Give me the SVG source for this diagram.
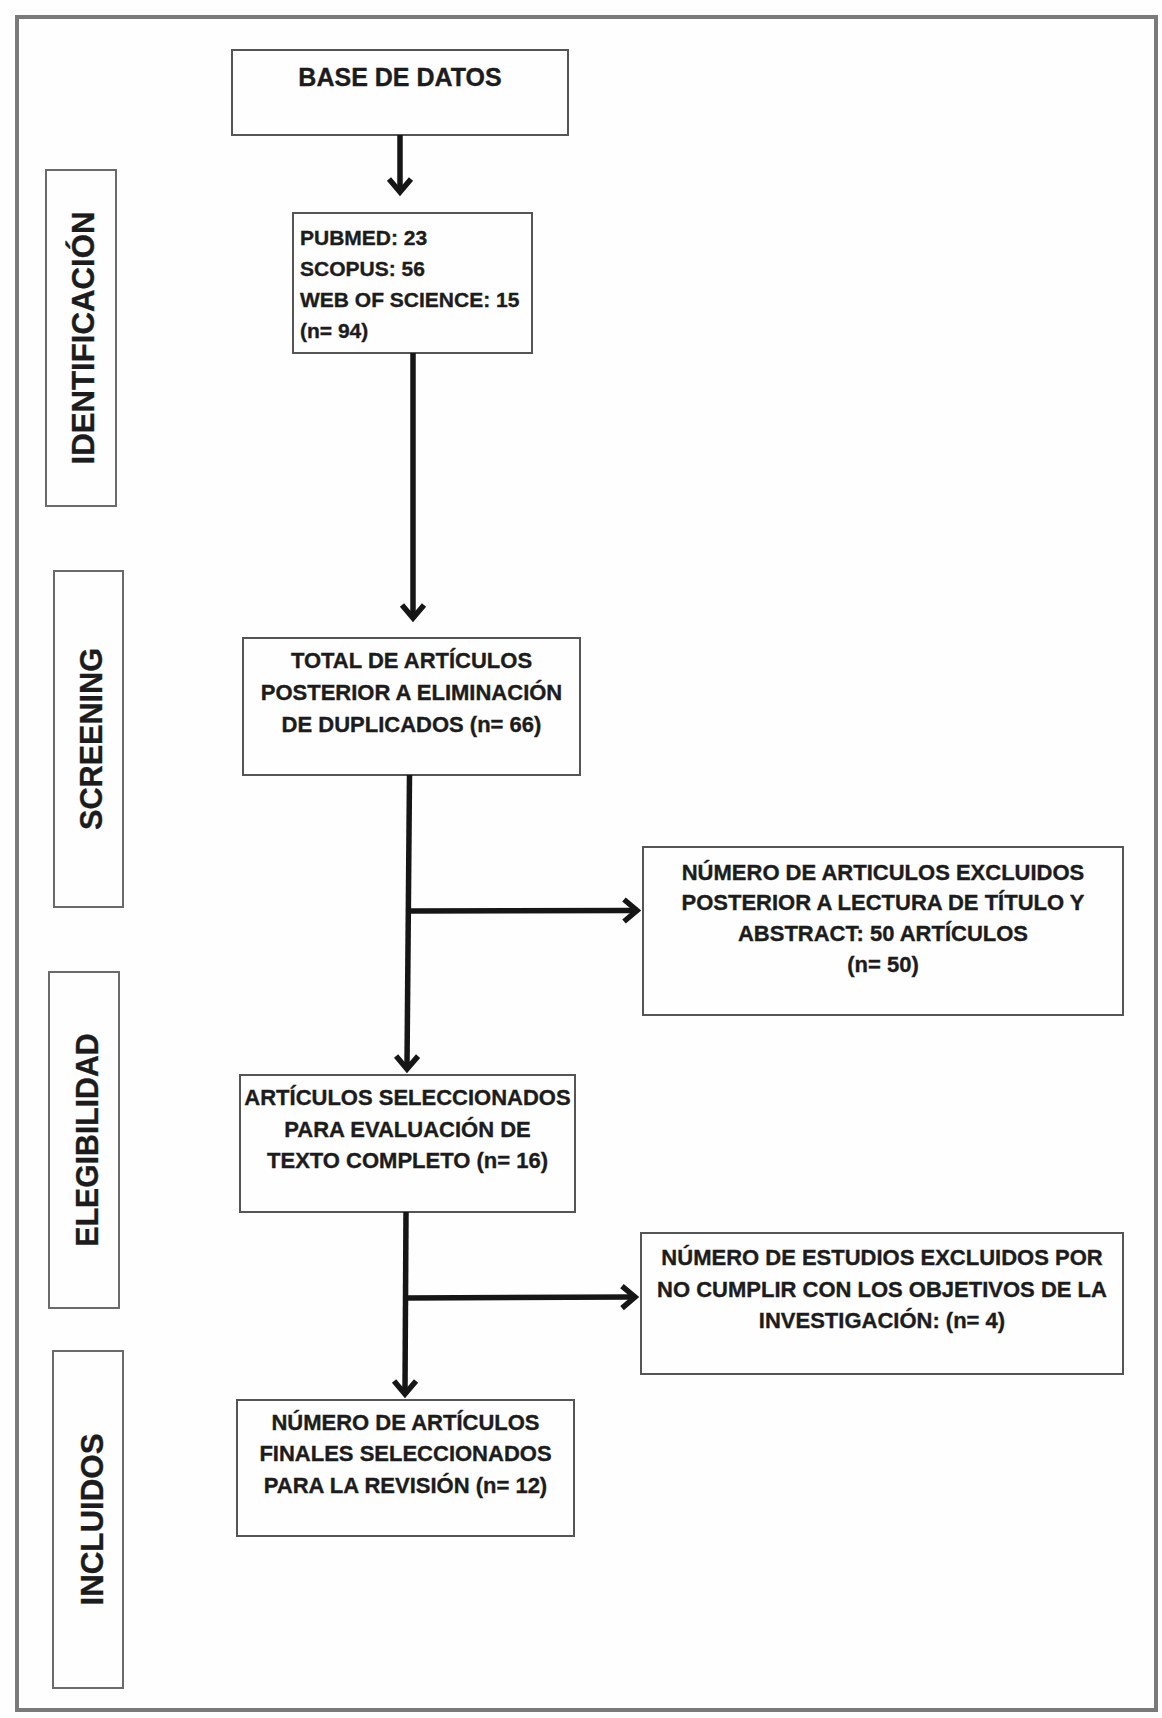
<svg xmlns="http://www.w3.org/2000/svg" width="1162" height="1718" viewBox="0 0 1162 1718">
<defs>
<style>
.frame{fill:none;stroke:#7a7a7a;stroke-width:4}
.box{fill:#fefefe;stroke:#555;stroke-width:2}
.side{fill:#fefefe;stroke:#6a6a6a;stroke-width:2}
.t{font-family:"Liberation Sans",Arial,sans-serif;font-weight:bold;fill:#1c1c1c;stroke:#1c1c1c;stroke-width:0.35;font-size:22px;text-anchor:middle}
.tl{text-anchor:start;font-size:21px}
.ts{font-size:31.5px}
.conn{fill:none;stroke:#161616;stroke-width:5.5}
</style>
<marker id="chev" markerUnits="userSpaceOnUse" markerWidth="40" markerHeight="40" refX="9" refY="0" orient="auto" overflow="visible">
<path d="M0,-11 L13,0 L0,11" fill="none" stroke="#161616" stroke-width="5.5" stroke-linejoin="miter"/>
</marker>
</defs>
<rect x="0" y="0" width="1162" height="1718" fill="#fefefe"/>
<rect class="frame" x="17" y="17" width="1139" height="1693"/>

<g id="side-identificacion">
<rect class="side" x="46" y="170" width="70" height="336"/>
<text class="t ts" transform="translate(93.5,338) rotate(-90)" textLength="253" lengthAdjust="spacingAndGlyphs">IDENTIFICACIÓN</text>
</g>
<g id="side-screening">
<rect class="side" x="54" y="571" width="69" height="336"/>
<text class="t ts" transform="translate(101.5,739) rotate(-90)" textLength="182" lengthAdjust="spacingAndGlyphs">SCREENING</text>
</g>
<g id="side-elegibilidad">
<rect class="side" x="49" y="972" width="70" height="336"/>
<text class="t ts" transform="translate(97.5,1140) rotate(-90)" textLength="213" lengthAdjust="spacingAndGlyphs">ELEGIBILIDAD</text>
</g>
<g id="side-incluidos">
<rect class="side" x="53" y="1351" width="70" height="337"/>
<text class="t ts" transform="translate(102.5,1519.5) rotate(-90)" textLength="172" lengthAdjust="spacingAndGlyphs">INCLUIDOS</text>
</g>

<g id="node-base">
<rect class="box" x="232" y="50" width="336" height="85"/>
<text class="t" x="400" y="85.5" style="font-size:25px">BASE DE DATOS</text>
</g>
<g id="node-fuentes">
<rect class="box" x="293" y="213" width="239" height="140"/>
<text class="t tl" x="300" y="245">PUBMED: 23</text>
<text class="t tl" x="300" y="276">SCOPUS: 56</text>
<text class="t tl" x="300" y="307">WEB OF SCIENCE: 15</text>
<text class="t tl" x="300" y="338">(n= 94)</text>
</g>
<g id="node-total">
<rect class="box" x="243" y="638" width="337" height="137"/>
<text class="t" x="411.5" y="668">TOTAL DE ARTÍCULOS</text>
<text class="t" x="411.5" y="700">POSTERIOR A ELIMINACIÓN</text>
<text class="t" x="411.5" y="731.5">DE DUPLICADOS (n= 66)</text>
</g>
<g id="node-excluidos1">
<rect class="box" x="643" y="847" width="480" height="168"/>
<text class="t" x="883" y="880">NÚMERO DE ARTICULOS EXCLUIDOS</text>
<text class="t" x="883" y="910">POSTERIOR A LECTURA DE TÍTULO Y</text>
<text class="t" x="883" y="941">ABSTRACT: 50 ARTÍCULOS</text>
<text class="t" x="883" y="972">(n= 50)</text>
</g>
<g id="node-seleccionados">
<rect class="box" x="240" y="1075" width="335" height="137"/>
<text class="t" x="407.5" y="1105">ARTÍCULOS SELECCIONADOS</text>
<text class="t" x="407.5" y="1136.5">PARA EVALUACIÓN DE</text>
<text class="t" x="407.5" y="1168">TEXTO COMPLETO (n= 16)</text>
</g>
<g id="node-excluidos2">
<rect class="box" x="641" y="1233" width="482" height="141"/>
<text class="t" x="882" y="1265">NÚMERO DE ESTUDIOS EXCLUIDOS POR</text>
<text class="t" x="882" y="1296.5">NO CUMPLIR CON LOS OBJETIVOS DE LA</text>
<text class="t" x="882" y="1328">INVESTIGACIÓN: (n= 4)</text>
</g>
<g id="node-finales">
<rect class="box" x="237" y="1400" width="337" height="136"/>
<text class="t" x="405.5" y="1430">NÚMERO DE ARTÍCULOS</text>
<text class="t" x="405.5" y="1461">FINALES SELECCIONADOS</text>
<text class="t" x="405.5" y="1492.5">PARA LA REVISIÓN (n= 12)</text>
</g>

<g id="connectors">
<line class="conn" x1="400" y1="135" x2="400" y2="188" marker-end="url(#chev)"/>
<line class="conn" x1="413" y1="353" x2="413" y2="614" marker-end="url(#chev)"/>
<line class="conn" x1="409.5" y1="775" x2="407" y2="1065" marker-end="url(#chev)"/>
<line class="conn" x1="409" y1="911" x2="633" y2="910.5" marker-end="url(#chev)"/>
<line class="conn" x1="406" y1="1212" x2="405" y2="1390" marker-end="url(#chev)"/>
<line class="conn" x1="405.5" y1="1298" x2="631" y2="1297" marker-end="url(#chev)"/>
</g>
</svg>
